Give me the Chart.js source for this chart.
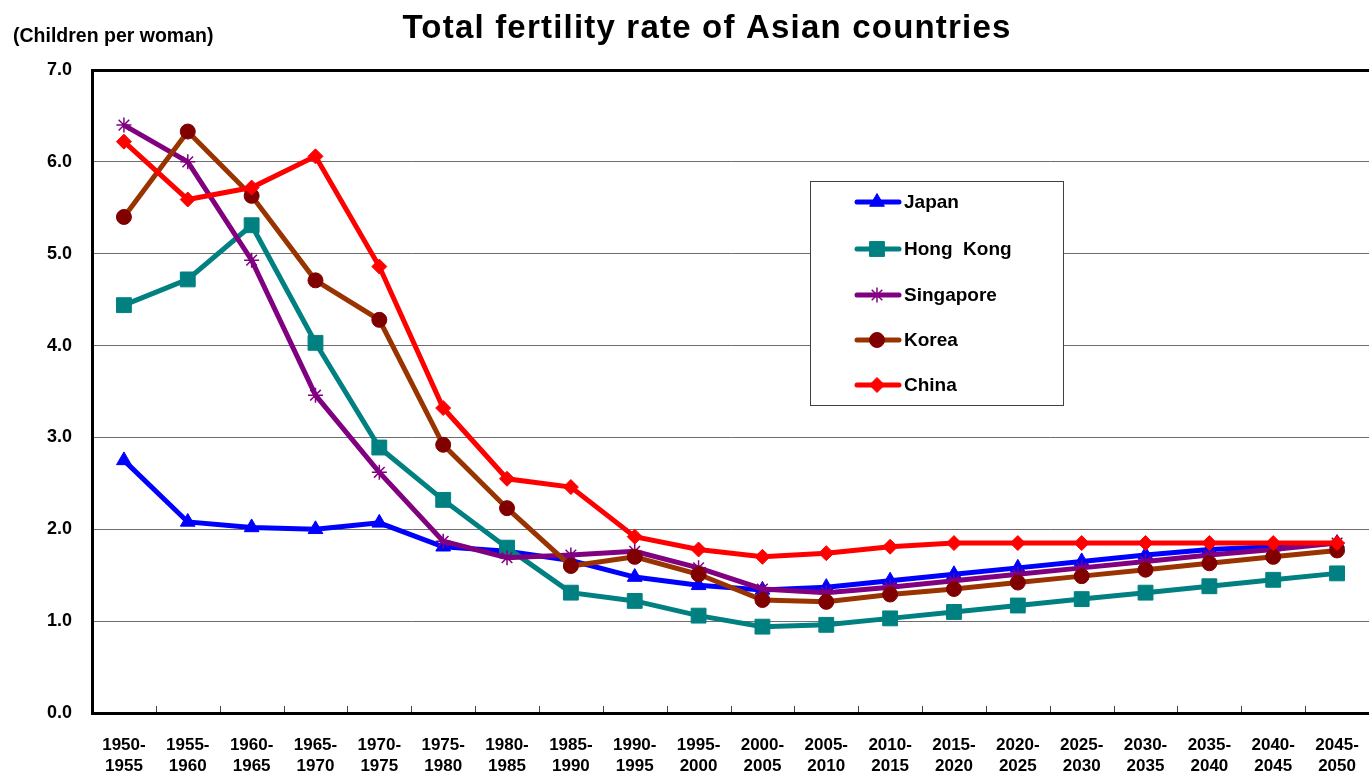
<!DOCTYPE html>
<html>
<head>
<meta charset="utf-8">
<title>Total fertility rate of Asian countries</title>
<script src="https://cdn.jsdelivr.net/npm/chart.js@4/dist/chart.umd.min.js"></script>
<style>
  html, body { margin: 0; padding: 0; background: #fff; overflow: hidden; }
  #wrap { width: 1369px; height: 773px; }
  #c { display: block; }
</style>
</head>
<body>
<div id="wrap"><canvas id="c" width="1369" height="773"></canvas></div>
<script>
const FONT = "'Liberation Sans', Arial, Helvetica, sans-serif";

const chartTitle = 'Total fertility rate of Asian countries';
const unitLabel = '(Children per woman)';

const periods = [
  ['1950-', '1955'], ['1955-', '1960'], ['1960-', '1965'], ['1965-', '1970'],
  ['1970-', '1975'], ['1975-', '1980'], ['1980-', '1985'], ['1985-', '1990'],
  ['1990-', '1995'], ['1995-', '2000'], ['2000-', '2005'], ['2005-', '2010'],
  ['2010-', '2015'], ['2015-', '2020'], ['2020-', '2025'], ['2025-', '2030'],
  ['2030-', '2035'], ['2035-', '2040'], ['2040-', '2045'], ['2045-', '2050']
];

const japan     = [2.75, 2.08, 2.02, 2.00, 2.07, 1.81, 1.76, 1.66, 1.48, 1.39, 1.34, 1.37, 1.44, 1.51, 1.58, 1.65, 1.72, 1.78, 1.81, 1.85];
const hongKong  = [4.44, 4.72, 5.31, 4.03, 2.89, 2.32, 1.80, 1.31, 1.22, 1.06, 0.94, 0.96, 1.03, 1.10, 1.17, 1.24, 1.31, 1.38, 1.45, 1.52];
const singapore = [6.40, 6.00, 4.93, 3.46, 2.62, 1.87, 1.69, 1.72, 1.76, 1.58, 1.35, 1.31, 1.37, 1.44, 1.51, 1.58, 1.65, 1.72, 1.78, 1.85];
const korea     = [5.40, 6.33, 5.63, 4.71, 4.28, 2.92, 2.23, 1.60, 1.70, 1.51, 1.23, 1.21, 1.29, 1.35, 1.42, 1.49, 1.56, 1.63, 1.70, 1.77];
const china     = [6.22, 5.59, 5.72, 6.06, 4.86, 3.32, 2.55, 2.46, 1.92, 1.78, 1.70, 1.74, 1.81, 1.85, 1.85, 1.85, 1.85, 1.85, 1.85, 1.85];

const yTicks = [0, 1, 2, 3, 4, 5, 6, 7];

function series(label, data, line, marker, style, radius, order, bw) {
  return {
    label, data, order,
    borderColor: line,
    backgroundColor: marker,
    borderWidth: 5,
    tension: 0,
    pointStyle: style,
    pointRadius: radius,
    pointHoverRadius: radius,
    pointBackgroundColor: marker,
    pointBorderColor: marker,
    pointBorderWidth: bw
  };
}

const datasets = [
  series('Japan', japan, '#0000FF', '#0000FF', 'triangle', 8.5, 5, 1),
  series('Hong  Kong', hongKong, '#008080', '#008080', 'rect', 10.5, 4, 1),
  series('Singapore', singapore, '#800080', '#800080', 'star', 7.5, 3, 1.5),
  series('Korea', korea, '#993300', '#800000', 'circle', 7.5, 2, 1),
  series('China', china, '#FF0000', '#FF0000', 'rectRot', 7.5, 1, 1)
];

// Marker painter for the legend; falls back to plain paths if helpers are missing
function paintMarker(ctx, style, r, x, y, bw) {
  ctx.lineWidth = bw;
  const H = Chart.helpers;
  if (H && H.drawPoint) {
    H.drawPoint(ctx, { pointStyle: style, radius: r, rotation: 0, borderWidth: bw }, x, y);
    return;
  }
  ctx.beginPath();
  if (style === 'circle') ctx.arc(x, y, r, 0, Math.PI * 2);
  else if (style === 'rect') { const s = r * Math.SQRT1_2; ctx.rect(x - s, y - s, 2 * s, 2 * s); }
  else if (style === 'rectRot') { ctx.moveTo(x - r, y); ctx.lineTo(x, y - r); ctx.lineTo(x + r, y); ctx.lineTo(x, y + r); ctx.closePath(); }
  else if (style === 'triangle') {
    ctx.moveTo(x, y - r);
    ctx.lineTo(x + r * Math.sin(Math.PI * 2 / 3), y - r * Math.cos(Math.PI * 2 / 3));
    ctx.lineTo(x - r * Math.sin(Math.PI * 2 / 3), y - r * Math.cos(Math.PI * 2 / 3));
    ctx.closePath();
  } else if (style === 'star') {
    for (let k = 0; k < 4; k++) {
      const a = k * Math.PI / 4;
      ctx.moveTo(x - Math.sin(a) * r, y - Math.cos(a) * r);
      ctx.lineTo(x + Math.sin(a) * r, y + Math.cos(a) * r);
    }
    ctx.stroke(); return;
  }
  ctx.fill();
  if (bw) ctx.stroke();
}

const decorations = {
  id: 'decorations',
  beforeDatasetsDraw(chart) {
    // short category dividers standing up from the bottom axis
    const ctx = chart.ctx, xs = chart.scales.x, area = chart.chartArea;
    ctx.save();
    ctx.strokeStyle = '#404040';
    ctx.lineWidth = 1;
    for (let i = 1; i < periods.length; i++) {
      const px = Math.round((xs.getPixelForValue(i - 1) + xs.getPixelForValue(i)) / 2) + 0.5;
      ctx.beginPath();
      ctx.moveTo(px, area.bottom - 1);
      ctx.lineTo(px, area.bottom - 7);
      ctx.stroke();
    }
    ctx.restore();
  },
  afterDraw(chart) {
    const ctx = chart.ctx;
    ctx.save();
    // title
    ctx.fillStyle = '#000';
    ctx.font = 'bold 33px ' + FONT;
    ctx.textAlign = 'center';
    ctx.textBaseline = 'alphabetic';
    if ('letterSpacing' in ctx) ctx.letterSpacing = '1.2px';
    ctx.fillText(chartTitle, 707, 38);
    if ('letterSpacing' in ctx) ctx.letterSpacing = '0px';
    // unit label
    ctx.font = 'bold 19.5px ' + FONT;
    ctx.textAlign = 'left';
    ctx.fillText(unitLabel, 13, 42);

    // legend box
    const bx = 810.5, by = 181.5, bw = 253, bh = 224;
    ctx.fillStyle = '#fff';
    ctx.fillRect(bx, by, bw, bh);
    ctx.strokeStyle = '#404040';
    ctx.lineWidth = 1;
    ctx.strokeRect(bx, by, bw, bh);
    const rows = [202, 249, 295, 340, 385];
    ctx.font = 'bold 19px ' + FONT;
    ctx.textBaseline = 'middle';
    datasets.forEach((ds, i) => {
      const y = rows[i];
      ctx.strokeStyle = ds.borderColor;
      ctx.lineWidth = 5;
      ctx.lineCap = 'round';
      ctx.beginPath();
      ctx.moveTo(857, y);
      ctx.lineTo(899, y);
      ctx.stroke();
      ctx.lineCap = 'butt';
      ctx.fillStyle = ds.pointBackgroundColor;
      ctx.strokeStyle = ds.pointBorderColor;
      paintMarker(ctx, ds.pointStyle, ds.pointRadius, 877, y, ds.pointBorderWidth);
      ctx.fillStyle = '#000';
      ctx.fillText(ds.label, 904, y + 1);
    });
    ctx.restore();
  }
};

new Chart(document.getElementById('c'), {
  type: 'line',
  data: { labels: periods, datasets },
  plugins: [decorations],
  options: {
    responsive: false,
    animation: false,
    devicePixelRatio: 1,
    layout: { autoPadding: false, padding: { top: 70, right: 0, bottom: 0, left: 0 } },
    plugins: {
      legend: { display: false },
      title: { display: false },
      tooltip: { enabled: false }
    },
    scales: {
      x: {
        offset: true,
        afterFit(scale) { scale.height = 60; },
        grid: { offset: true, drawOnChartArea: false, drawTicks: false },
        border: { display: true, color: '#000', width: 3 },
        ticks: {
          color: '#000',
          padding: 0,
          maxRotation: 0,
          autoSkip: false,
          // blank first row keeps the two-line period labels clear of the axis
          callback: (v, i) => [''].concat(periods[i]),
          font: { family: FONT, size: 17, weight: 'bold', lineHeight: 1.25 }
        }
      },
      y: {
        min: yTicks[0],
        max: yTicks[yTicks.length - 1],
        afterFit(scale) { scale.width = 92; },
        afterBuildTicks(scale) { scale.ticks = yTicks.map(v => ({ value: v })); },
        grid: {
          drawTicks: false,
          color: c => (c.tick && c.tick.value === 7) ? '#000' : (c.tick && c.tick.value === 0 ? 'rgba(0,0,0,0)' : '#6e6e6e'),
          lineWidth: c => (c.tick && c.tick.value === 7) ? 3 : 1
        },
        border: { display: true, color: '#000', width: 3 },
        ticks: {
          color: '#000',
          padding: 20,
          font: { family: FONT, size: 18, weight: 'bold' },
          callback: v => Number(v).toFixed(1)
        }
      }
    }
  }
});
</script>
</body>
</html>
